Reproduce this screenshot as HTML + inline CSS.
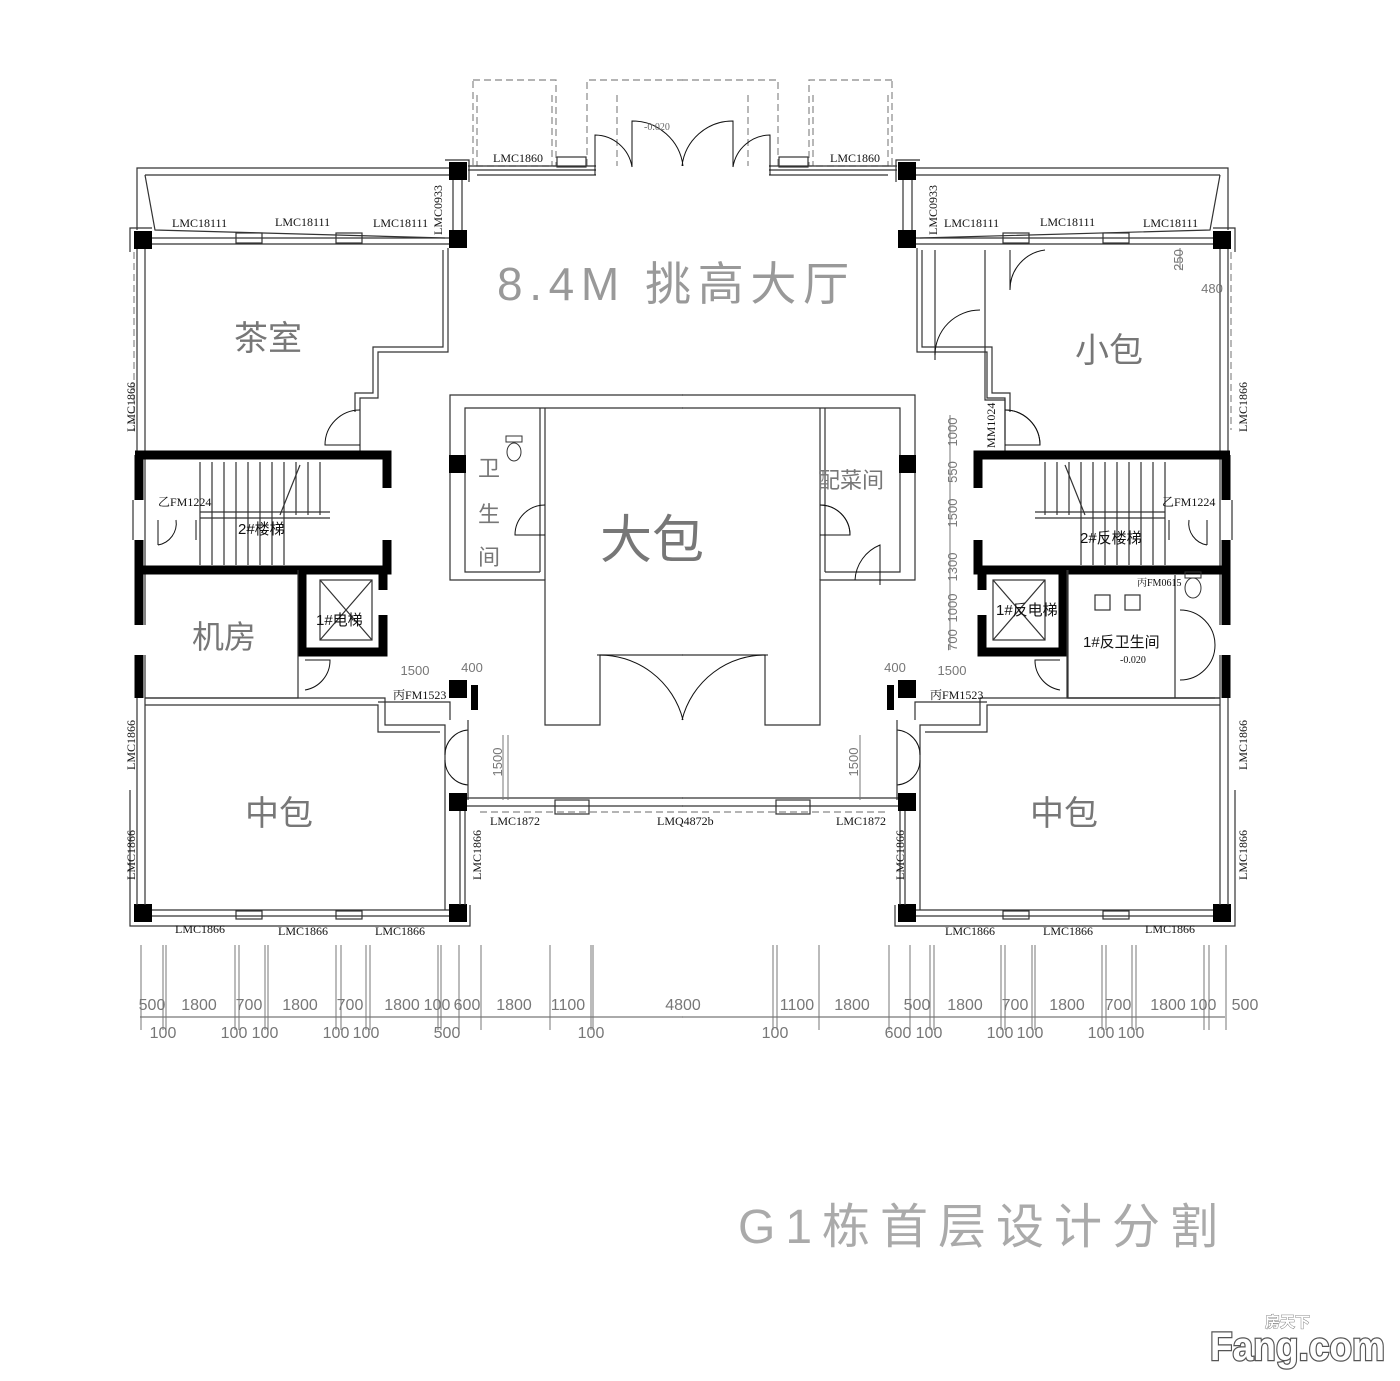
<!DOCTYPE html>
<html><head><meta charset="utf-8"><style>
html,body{margin:0;padding:0;background:#fff}
svg{display:block}
.w{fill:none;stroke:#333;stroke-width:1.2}
.t{fill:none;stroke:#111;stroke-width:1}
.d{fill:none;stroke:#888;stroke-width:1.2;stroke-dasharray:7 4}
.k{fill:#000}
.th{fill:none;stroke:#000;stroke-width:9}
.lb{font-family:"Liberation Serif","Noto Serif CJK SC",serif;font-size:12px;fill:#111}
.rm{font-family:"Liberation Sans","Noto Sans CJK SC",sans-serif;fill:#777}
.dm{font-family:"Liberation Sans",sans-serif;font-size:16px;fill:#777;text-anchor:middle}
</style></head><body>
<svg width="1400" height="1381" viewBox="0 0 1400 1381" xmlns="http://www.w3.org/2000/svg">
<defs>
<g id="half">
  <rect class="d" x="473" y="80" width="83" height="86"/>
  <line class="d" x1="477" y1="95" x2="477" y2="166"/><line class="d" x1="552" y1="95" x2="552" y2="166"/>
  <path class="d" d="M587,166 V80 H683"/>
  <line class="d" x1="617" y1="95" x2="617" y2="166"/>
  <line class="w" x1="468" y1="166" x2="596" y2="166"/>
  <line class="w" x1="468" y1="170" x2="596" y2="170"/>
  <line class="w" x1="477" y1="175" x2="596" y2="175"/>
  <rect class="w" x="557" y="157" width="29" height="10"/>
  <path class="t" d="M595,175 V135 A38,38 0 0 1 632,167 M632,167 V121 A51,51 0 0 1 683,166"/>
  <rect class="k" x="449" y="162" width="18" height="18"/>
  <rect class="k" x="449" y="230" width="18" height="18"/>
  <rect class="k" x="134" y="231" width="18" height="18"/>
  <rect class="k" x="449" y="793" width="18" height="18"/>
  <rect class="k" x="134" y="904" width="18" height="18"/>
  <rect class="k" x="449" y="904" width="18" height="18"/>
  <path class="w" d="M445,160 H469 V182 M130,252 V228 H152"/>
  <path class="w" d="M137,230 V168 H449"/>
  <path class="w" d="M145,175 H449"/>
  <path class="w" d="M145,175 L155,230 L445,238"/>
  <line class="w" x1="152" y1="238" x2="449" y2="238"/>
  <line class="w" x1="152" y1="244" x2="449" y2="244"/>
  <rect class="w" x="236" y="233" width="26" height="10"/>
  <rect class="w" x="336" y="233" width="26" height="10"/>
  <line class="w" x1="453" y1="180" x2="453" y2="230"/><line class="w" x1="462" y1="180" x2="462" y2="230"/>
  <line class="w" x1="137" y1="249" x2="137" y2="905"/>
  <line class="w" x1="145" y1="249" x2="145" y2="905"/>
  <line class="d" x1="134" y1="252" x2="134" y2="430"/>
  <path class="w" d="M448,248 V352 H378 V398 H360 V455"/>
  <path class="w" d="M443,250 V347 H373 V393 H355 V412"/>
  <path class="t" d="M360,410 A35,35 0 0 0 325,445 H360"/>
  <path class="th" d="M135,455 H387 V488 M387,540 V570 H135"/>
  <line class="th" x1="139" y1="455" x2="139" y2="500"/>
  <rect fill="#fff" x="131" y="500" width="16" height="40"/>
  <line class="w" x1="133" y1="500" x2="133" y2="540"/><line class="w" x1="145" y1="500" x2="145" y2="540"/>
  <line class="th" x1="139" y1="540" x2="139" y2="570"/>
  <g class="w">
   <line x1="200" y1="462" x2="200" y2="565"/><line x1="212" y1="462" x2="212" y2="565"/>
   <line x1="224" y1="462" x2="224" y2="565"/><line x1="236" y1="462" x2="236" y2="565"/>
   <line x1="248" y1="462" x2="248" y2="565"/><line x1="260" y1="462" x2="260" y2="565"/>
   <line x1="272" y1="462" x2="272" y2="565"/><line x1="284" y1="462" x2="284" y2="565"/>
   <line x1="296" y1="462" x2="296" y2="515"/><line x1="308" y1="462" x2="308" y2="515"/>
   <line x1="320" y1="462" x2="320" y2="515"/>
   <line x1="200" y1="512" x2="330" y2="512"/><line x1="200" y1="518" x2="330" y2="518"/>
   <line x1="280" y1="515" x2="300" y2="465"/>
  </g>
  <path class="t" d="M158,545 V520 M158,545 A22,22 0 0 0 176,520 M196,520 V540"/>
  <line class="th" x1="139" y1="570" x2="139" y2="625"/>
  <line class="th" x1="139" y1="655" x2="139" y2="698"/>
  <rect fill="#fff" x="131" y="625" width="16" height="30"/>
  <path class="th" d="M302,570 V652 H383 V615 M383,590 V570"/>
  <path class="w" d="M298,570 V698 H145"/>
  <rect class="w" x="320" y="580" width="52" height="60"/>
  <path class="w" d="M320,580 L372,640 M372,580 L320,640"/>
  <path class="t" d="M305,690 A30,30 0 0 0 330,660 H305"/>
  <path class="w" d="M145,698 H385 V725 H445 V910"/>
  <path class="w" d="M145,705 H378 V732 H440"/>
  <path class="w" d="M378,702 H450 V720"/>
  <rect class="k" x="449" y="680" width="18" height="18"/>
  <path class="k" d="M471,685 L478,685 L478,710 L471,710 Z"/>
  <path class="t" d="M468,730 A25,25 0 0 0 445,755 M468,785 A25,25 0 0 1 445,760"/>
  <line class="w" x1="468" y1="720" x2="468" y2="800"/>
  <line class="w" x1="460" y1="811" x2="460" y2="905"/>
  <line class="w" x1="465" y1="811" x2="465" y2="905"/>
  <line class="w" x1="152" y1="910" x2="449" y2="910"/>
  <line class="w" x1="152" y1="916" x2="449" y2="916"/>
  <rect class="w" x="236" y="911" width="26" height="8"/><rect class="w" x="336" y="911" width="26" height="8"/>
  <path class="w" d="M130,905 V926 H470 V905"/>
  <line class="w" x1="130" y1="790" x2="130" y2="905"/>
  <line class="w" x1="467" y1="798" x2="683" y2="798"/>
  <line class="w" x1="467" y1="806" x2="683" y2="806"/>
  <line class="d" x1="480" y1="812" x2="683" y2="812"/>
  <rect class="w" x="555" y="800" width="34" height="14"/>
  <path class="w" d="M683,395 H450 V580 H545 V725 H600 V655 H683"/>
  <path class="w" d="M683,408 H465 V572 H540"/>
  <line class="w" x1="545" y1="408" x2="545" y2="580"/>
  <line class="w" x1="540" y1="408" x2="540" y2="572"/>
  <rect class="k" x="449" y="455" width="17" height="18"/>
  <path class="t" d="M597,655 A86,86 0 0 1 683,720"/>
  <path class="t" d="M545,505 A30,30 0 0 0 515,535 H545"/>
  <line class="w" x1="140" y1="1017" x2="683" y2="1017" style="stroke:#777"/>
</g>
</defs>
<use href="#half"/>
<use href="#half" transform="translate(1365,0) scale(-1,1)"/>

<g stroke="#777" stroke-width="1" fill="none">
<path d="M141,945V1030M163,945V1030M166,945V1030M235,945V1030M239,945V1030M265,945V1030M268,945V1030M336,945V1030M341,945V1030M366,945V1030M370,945V1030M438,945V1030M441,945V1030M459,945V1030M481,945V1030M550,945V1030M591,945V1030M593,945V1030M773,945V1030M777,945V1030M819,945V1030M889,945V1030M910,945V1030M930,945V1030M934,945V1030M1001,945V1030M1005,945V1030M1032,945V1030M1035,945V1030M1102,945V1030M1106,945V1030M1132,945V1030M1136,945V1030M1204,945V1030M1209,945V1030M1226,945V1030"/>
<path d="M503,735V800M508,735V800M860,735V800M950,415V650M1180,248V270"/>
</g>

<ellipse cx="514" cy="452" rx="7" ry="9" fill="none" stroke="#333"/>
<rect x="506" y="436" width="16" height="6" fill="none" stroke="#333"/>
<ellipse cx="1193" cy="588" rx="8" ry="10" fill="none" stroke="#333"/>
<rect x="1185" y="572" width="16" height="6" fill="none" stroke="#333"/>
<path class="w" d="M1068,570 V698 H1215 M1175,575 V698"/>
<path class="t" d="M1180,610 A35,35 0 0 1 1180,680"/>
<rect class="w" x="1095" y="595" width="15" height="15"/><rect class="w" x="1125" y="595" width="15" height="15"/>
<path class="w" d="M935,250 V360 M985,250 V400 H1005 V440"/>
<path class="t" d="M935,355 A45,45 0 0 1 980,310 M1010,250 V290 A40,40 0 0 1 1045,250"/>
<path class="t" d="M1040,445 A35,35 0 0 0 1005,410"/>
<path class="t" d="M855,580 A40,40 0 0 1 880,545 V585 M820,505 A30,30 0 0 1 850,535 H820"/>

<g class="lb">
<text x="493" y="162">LMC1860</text><text x="830" y="162">LMC1860</text>
<text x="172" y="227">LMC18111</text><text x="275" y="226">LMC18111</text><text x="373" y="227">LMC18111</text>
<text x="944" y="227">LMC18111</text><text x="1040" y="226">LMC18111</text><text x="1143" y="227">LMC18111</text>
<text x="175" y="933">LMC1866</text><text x="278" y="935">LMC1866</text><text x="375" y="935">LMC1866</text>
<text x="945" y="935">LMC1866</text><text x="1043" y="935">LMC1866</text><text x="1145" y="933">LMC1866</text>
<text x="490" y="825">LMC1872</text><text x="836" y="825">LMC1872</text><text x="657" y="825">LMQ4872b</text>
<text x="158" y="506">乙FM1224</text><text x="1162" y="506">乙FM1224</text>
<text x="393" y="699">丙FM1523</text><text x="930" y="699">丙FM1523</text>
<text x="1137" y="586" style="font-size:10px">丙FM0615</text>
<text x="644" y="130" style="font-size:10px;fill:#666">-0.020</text>
<text x="1120" y="663" style="font-size:10px">-0.020</text>
<text transform="translate(442,235) rotate(-90)">LMC0933</text>
<text transform="translate(937,235) rotate(-90)">LMC0933</text>
<text transform="translate(135,432) rotate(-90)">LMC1866</text>
<text transform="translate(135,770) rotate(-90)">LMC1866</text>
<text transform="translate(135,880) rotate(-90)">LMC1866</text>
<text transform="translate(1247,432) rotate(-90)">LMC1866</text>
<text transform="translate(1247,770) rotate(-90)">LMC1866</text>
<text transform="translate(1247,880) rotate(-90)">LMC1866</text>
<text transform="translate(481,880) rotate(-90)">LMC1866</text>
<text transform="translate(904,880) rotate(-90)">LMC1866</text>
<text transform="translate(995,448) rotate(-90)">MM1024</text>
</g>
<g class="rm" style="font-size:15px;fill:#111">
<text x="238" y="534">2#楼梯</text><text x="316" y="625">1#电梯</text>
<text x="1080" y="543">2#反楼梯</text><text x="996" y="615">1#反电梯</text><text x="1083" y="647">1#反卫生间</text>
</g>
<g class="dm" style="font-size:13px">
<text x="415" y="675">1500</text><text x="472" y="672">400</text><text x="895" y="672">400</text><text x="952" y="675">1500</text>
<text x="1212" y="293">480</text>
<text transform="translate(502,762) rotate(-90)">1500</text><text transform="translate(858,762) rotate(-90)">1500</text>
<text transform="translate(1183,260) rotate(-90)">250</text>
<text transform="translate(957,432) rotate(-90)">1000</text><text transform="translate(957,472) rotate(-90)">550</text>
<text transform="translate(957,513) rotate(-90)">1500</text><text transform="translate(957,567) rotate(-90)">1300</text>
<text transform="translate(957,608) rotate(-90)">1000</text><text transform="translate(957,640) rotate(-90)">700</text>
</g>

<g class="rm">
<text x="497" y="300" textLength="352" lengthAdjust="spacing" style="font-size:46px;fill:#999">8.4M 挑高大厅</text>
<text x="234" y="350" style="font-size:34px">茶室</text>
<text x="1075" y="362" style="font-size:34px">小包</text>
<text x="192" y="648" style="font-size:32px">机房</text>
<text x="245" y="825" style="font-size:34px">中包</text>
<text x="1030" y="825" style="font-size:34px">中包</text>
<text x="600" y="558" style="font-size:52px">大包</text>
<text x="478" y="476" style="font-size:22px">卫</text>
<text x="478" y="522" style="font-size:22px">生</text>
<text x="478" y="565" style="font-size:22px">间</text>
<text x="818" y="488" style="font-size:22px">配菜间</text>
<text x="738" y="1243" textLength="480" lengthAdjust="spacing" style="font-size:48px;fill:#aaa">G1栋首层设计分割</text>
</g>

<g class="dm">
<text x="152" y="1010">500</text><text x="199" y="1010">1800</text><text x="249" y="1010">700</text><text x="300" y="1010">1800</text><text x="350" y="1010">700</text><text x="402" y="1010">1800</text><text x="437" y="1010">100</text><text x="467" y="1010">600</text><text x="514" y="1010">1800</text><text x="568" y="1010">1100</text><text x="683" y="1010">4800</text><text x="797" y="1010">1100</text><text x="852" y="1010">1800</text><text x="917" y="1010">500</text><text x="965" y="1010">1800</text><text x="1015" y="1010">700</text><text x="1067" y="1010">1800</text><text x="1118" y="1010">700</text><text x="1168" y="1010">1800</text><text x="1203" y="1010">100</text><text x="1245" y="1010">500</text>
<text x="163" y="1038">100</text><text x="234" y="1038">100</text><text x="265" y="1038">100</text><text x="336" y="1038">100</text><text x="366" y="1038">100</text><text x="447" y="1038">500</text><text x="591" y="1038">100</text><text x="775" y="1038">100</text><text x="898" y="1038">600</text><text x="929" y="1038">100</text><text x="1000" y="1038">100</text><text x="1030" y="1038">100</text><text x="1101" y="1038">100</text><text x="1131" y="1038">100</text>
</g>

<text x="1265" y="1327" style="font-family:'Noto Sans CJK SC',sans-serif;font-size:15px;fill:#fff;stroke:#666;stroke-width:0.8;paint-order:stroke;font-weight:bold">房天下</text>
<text x="1210" y="1360" textLength="175" lengthAdjust="spacingAndGlyphs" style="font-family:'Liberation Sans',sans-serif;font-size:40px;font-weight:bold;fill:#fff;stroke:#555;stroke-width:2.5;paint-order:stroke">Fang.com</text>
</svg>
</body></html>
